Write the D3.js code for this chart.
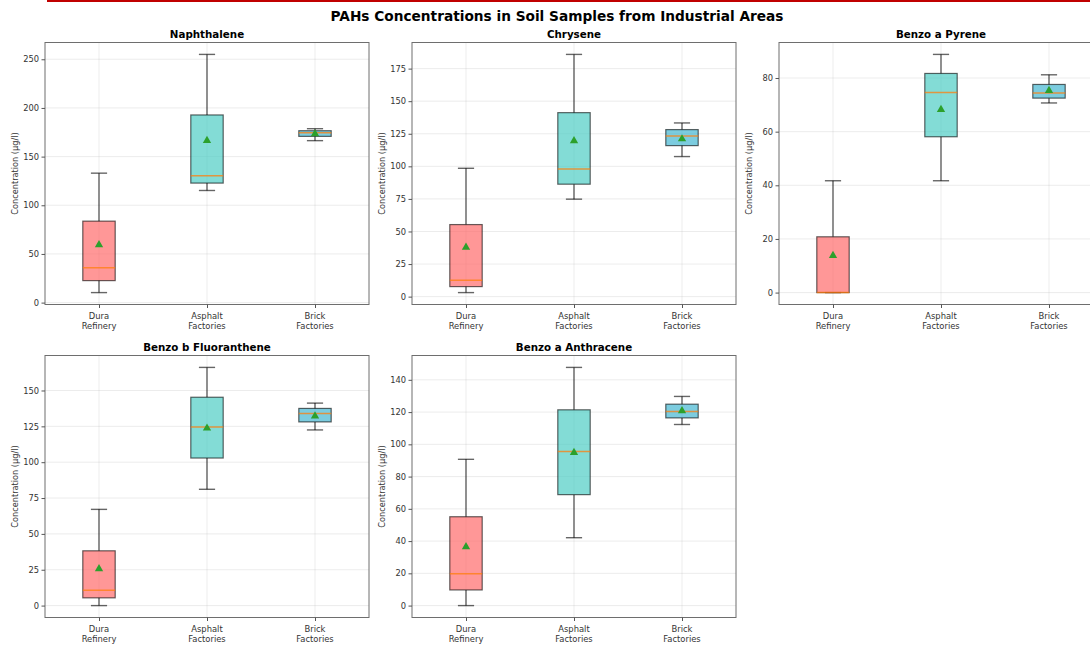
<!DOCTYPE html>
<html>
<head>
<meta charset="utf-8">
<script src="https://cdn.jsdelivr.net/npm/d3@7/dist/d3.min.js"></script>
<style>
  html, body { margin: 0; padding: 0; background: #fff; overflow: hidden; }
  svg { display: block; font-family: "DejaVu Sans", sans-serif; }
</style>
</head>
<body>
<svg id="chart" width="1090" height="645"></svg>
<script>
// Sampling sites (x categories) and compounds (one panel each)
const sites = ["Dura Refinery", "Asphalt Factories", "Brick Factories"];
const compounds = ["Naphthalene", "Chrysene", "Benzo a Pyrene", "Benzo b Fluoranthene", "Benzo a Anthracene"];

// Box statistics per compound, one entry per site: [whiskerLow, q1, median, q3, whiskerHigh, mean]
const naphthalene = [
  [10.3, 22.6, 35.7, 83.7, 133.0, 59.4],
  [115.2, 122.8, 130.3, 192.8, 255.0, 166.4],
  [166.4, 170.8, 174.6, 176.6, 178.7, 173.5]
];
const chrysene = [
  [3.1, 7.7, 12.6, 55.3, 98.5, 37.9],
  [74.8, 86.3, 98.0, 141.2, 185.9, 119.5],
  [107.5, 115.9, 123.3, 128.2, 133.3, 121.0]
];
const benzoAPyrene = [
  [0.0, 0.0, 0.0, 20.8, 41.7, 13.8],
  [41.7, 58.1, 74.6, 81.7, 88.8, 68.2],
  [70.7, 72.5, 74.4, 77.6, 81.2, 75.3]
];
const benzoBFluoranthene = [
  [0.0, 5.4, 10.7, 38.2, 67.1, 25.6],
  [81.1, 102.9, 124.6, 145.3, 166.1, 123.7],
  [122.5, 128.1, 134.0, 137.5, 141.2, 132.1]
];
const benzoAAnthracene = [
  [0.0, 9.7, 19.7, 55.1, 90.7, 36.5],
  [42.1, 68.8, 95.5, 121.4, 147.7, 94.9],
  [112.3, 116.4, 120.4, 124.9, 129.7, 120.8]
];

// Y tick values per panel
const ticksNaphthalene = [0, 50, 100, 150, 200, 250];
const ticksChrysene = [0, 25, 50, 75, 100, 125, 150, 175];
const ticksBenzoAPyrene = [0, 20, 40, 60, 80];
const ticksBenzoBFluoranthene = [0, 25, 50, 75, 100, 125, 150];
const ticksBenzoAAnthracene = [0, 20, 40, 60, 80, 100, 120, 140];

const siteColors = ["#FF6B6B", "#4ECDC4", "#45B7D1"];

const panelStats = [naphthalene, chrysene, benzoAPyrene, benzoBFluoranthene, benzoAAnthracene];
const panelTicks = [ticksNaphthalene, ticksChrysene, ticksBenzoAPyrene, ticksBenzoBFluoranthene, ticksBenzoAAnthracene];

const svg = d3.select("#chart");

// Accent rule along the top edge
svg.append("rect").attr("x", 47).attr("y", 0).attr("width", 1043).attr("height", 2).attr("fill", "#c00000");

svg.append("text")
  .attr("x", 557).attr("y", 20.5)
  .attr("text-anchor", "middle")
  .attr("font-size", 13.7).attr("font-weight", "bold")
  .attr("fill", "#000")
  .text("PAHs Concentrations in Soil Samples from Industrial Areas");

// Grid of axes: 3 columns, 2 rows
const colLeft = [45, 412, 779];
const rowTop = [42.5, 355.5];
const axW = 324, axH = 262;

panelStats.forEach((stats, i) => {
  const col = i % 3, row = Math.floor(i / 3);
  const g = svg.append("g").attr("transform", `translate(${colLeft[col]},${rowTop[row]})`);

  const lo = d3.min(stats, d => d[0]);
  const hi = d3.max(stats, d => d[4]);
  const pad = (hi - lo) * 0.05;

  const y = d3.scaleLinear().domain([lo - pad, hi + pad]).range([axH, 0]);
  const x = d3.scaleLinear().domain([0.5, 3.5]).range([0, axW]);

  const clipId = "clip" + i;
  g.append("clipPath").attr("id", clipId)
    .append("rect").attr("width", axW).attr("height", axH);

  // grid
  const grid = g.append("g").attr("clip-path", `url(#${clipId})`);
  grid.selectAll("line.h").data(panelTicks[i]).join("line")
    .attr("x1", 0).attr("x2", axW)
    .attr("y1", d => y(d)).attr("y2", d => y(d))
    .attr("stroke", "#b0b0b0").attr("stroke-opacity", 0.3).attr("stroke-width", 0.8);
  grid.selectAll("line.v").data(sites).join("line")
    .attr("x1", (d, k) => x(k + 1)).attr("x2", (d, k) => x(k + 1))
    .attr("y1", 0).attr("y2", axH)
    .attr("stroke", "#b0b0b0").attr("stroke-opacity", 0.3).attr("stroke-width", 0.8);

  const boxHalf = x(1.15) - x(1);
  const capHalf = x(1.075) - x(1);

  stats.forEach((s, k) => {
    const cx = x(k + 1);
    const [wl, q1, med, q3, wh, mean] = s;
    const whiskerStyle = sel => sel.attr("stroke", "#000").attr("stroke-opacity", 0.6).attr("stroke-width", 1.4);

    // whiskers
    g.append("line").attr("x1", cx).attr("x2", cx).attr("y1", y(q1)).attr("y2", y(wl)).call(whiskerStyle);
    g.append("line").attr("x1", cx).attr("x2", cx).attr("y1", y(q3)).attr("y2", y(wh)).call(whiskerStyle);
    // caps
    g.append("line").attr("x1", cx - capHalf).attr("x2", cx + capHalf).attr("y1", y(wl)).attr("y2", y(wl)).call(whiskerStyle);
    g.append("line").attr("x1", cx - capHalf).attr("x2", cx + capHalf).attr("y1", y(wh)).attr("y2", y(wh)).call(whiskerStyle);

    // box
    g.append("rect")
      .attr("x", cx - boxHalf).attr("width", boxHalf * 2)
      .attr("y", y(q3)).attr("height", Math.max(0, y(q1) - y(q3)))
      .attr("fill", siteColors[k]).attr("fill-opacity", 0.7)
      .attr("stroke", "#000").attr("stroke-opacity", 0.6).attr("stroke-width", 1.2);

    // median
    g.append("line")
      .attr("x1", cx - boxHalf).attr("x2", cx + boxHalf)
      .attr("y1", y(med)).attr("y2", y(med))
      .attr("stroke", "#ff7f0e").attr("stroke-opacity", 0.75).attr("stroke-width", 1.5);

    // mean
    g.append("path")
      .attr("d", d3.symbol().type(d3.symbolTriangle).size(30)())
      .attr("transform", `translate(${cx},${y(mean)})`)
      .attr("fill", "#2ca02c");
  });

  // frame
  g.append("rect").attr("width", axW).attr("height", axH)
    .attr("fill", "none").attr("stroke", "#6e6e6e").attr("stroke-width", 1);

  // y axis
  const yAxis = g.append("g")
    .call(d3.axisLeft(y).tickValues(panelTicks[i]).tickFormat(d3.format("d")).tickSize(3.5).tickPadding(2.5));
  yAxis.select(".domain").remove();
  yAxis.selectAll("line").attr("stroke", "#555");
  yAxis.selectAll("text").attr("font-size", 8.3).attr("fill", "#333").attr("font-family", "DejaVu Sans, sans-serif");

  // x axis with two-line labels
  const xAxis = g.append("g").attr("transform", `translate(0,${axH})`)
    .call(d3.axisBottom(x).tickValues([1, 2, 3]).tickFormat("").tickSize(3.5));
  xAxis.select(".domain").remove();
  xAxis.selectAll("line").attr("stroke", "#555");
  sites.forEach((name, k) => {
    const parts = name.split(" ");
    const t = g.append("text")
      .attr("x", x(k + 1)).attr("y", axH + 14)
      .attr("text-anchor", "middle")
      .attr("font-size", 8.4).attr("fill", "#333");
    parts.forEach((p, j) => {
      t.append("tspan").attr("x", x(k + 1)).attr("dy", j === 0 ? 0 : 10.5).text(p);
    });
  });

  // y label
  g.append("text")
    .attr("transform", `translate(${-27},${axH / 2}) rotate(-90)`)
    .attr("text-anchor", "middle")
    .attr("font-size", 8.2).attr("fill", "#333")
    .text("Concentration (μg/l)");

  // panel title
  g.append("text")
    .attr("x", axW / 2).attr("y", -5)
    .attr("text-anchor", "middle")
    .attr("font-size", 10.3).attr("font-weight", "bold").attr("fill", "#000")
    .text(compounds[i]);
});
</script>
</body>
</html>
